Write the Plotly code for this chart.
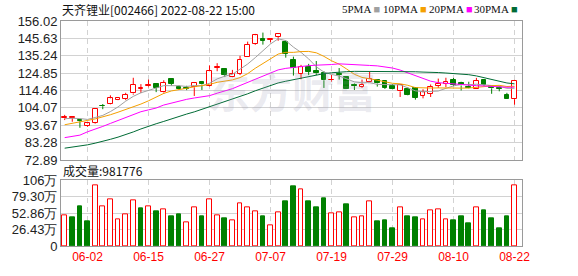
import plotly.graph_objects as go

# ---------------- data ----------------
dates = ["05-30", "05-31", "06-01", "06-02", "06-06", "06-07", "06-08", "06-09", "06-10", "06-13",
         "06-14", "06-15", "06-16", "06-17", "06-20", "06-21", "06-22", "06-23", "06-24", "06-27",
         "06-28", "06-29", "06-30", "07-01", "07-04", "07-05", "07-06", "07-07", "07-08", "07-11",
         "07-12", "07-13", "07-14", "07-15", "07-18", "07-19", "07-20", "07-21", "07-22", "07-25",
         "07-26", "07-27", "07-28", "07-29", "08-01", "08-02", "08-03", "08-04", "08-05", "08-08",
         "08-09", "08-10", "08-11", "08-12", "08-15", "08-16", "08-17", "08-18", "08-19", "08-22"]

opens = [97.8, 98.0, 96.8, 93.4, 94.9, 105.4, 106.4, 109.1, 109.3, 112.7,
         115.6, 116.9, 118.1, 113.3, 121.4, 116.4, 115.8, 116.4, 119.7, 117.3,
         128.0, 127.3, 122.5, 124.4, 134.7, 142.3, 145.2, 144.7, 146.4, 143.7,
         132.5, 124.6, 128.3, 126.4, 124.8, 120.6, 124.4, 122.5, 117.5, 116.5,
         119.4, 121.0, 120.2, 117.0, 114.0, 115.6, 116.0, 111.3, 112.5, 117.1,
         118.5, 121.0, 119.1, 116.5, 115.6, 121.0, 117.0, 115.9, 111.9, 109.3]
highs = [99.9, 98.5, 97.0, 95.3, 103.8, 106.4, 111.6, 110.6, 113.1, 122.1,
         118.3, 121.0, 118.6, 120.6, 121.5, 117.5, 117.3, 119.1, 119.9, 129.5,
         130.8, 127.6, 126.8, 135.2, 143.7, 148.3, 149.1, 145.8, 148.5, 144.5,
         134.7, 129.8, 130.4, 132.1, 126.0, 123.7, 127.9, 122.9, 118.7, 121.0,
         125.6, 121.2, 120.6, 118.3, 118.3, 116.4, 116.4, 115.2, 118.1, 121.6,
         122.1, 122.0, 119.7, 119.7, 122.0, 121.2, 117.2, 117.3, 113.1, 120.8]
lows = [96.8, 95.8, 92.2, 92.8, 94.5, 103.3, 106.2, 108.7, 108.7, 112.0,
        112.9, 116.4, 113.5, 112.5, 117.3, 114.8, 114.7, 111.2, 114.8, 116.9,
        126.0, 122.5, 122.4, 123.7, 134.5, 141.8, 141.9, 143.3, 144.2, 134.1,
        123.4, 121.2, 123.7, 123.7, 116.0, 119.8, 121.0, 115.4, 114.8, 116.0,
        119.2, 116.8, 115.4, 115.2, 110.6, 111.6, 109.0, 109.8, 110.6, 116.0,
        116.4, 117.1, 114.5, 115.8, 115.4, 117.1, 112.5, 114.0, 109.4, 106.0]
closes = [98.8, 98.4, 96.2, 94.8, 103.5, 105.1, 109.8, 110.1, 111.9, 117.9,
          116.0, 117.9, 116.0, 119.1, 118.3, 115.4, 115.6, 118.9, 118.1, 126.0,
          128.4, 123.7, 124.6, 132.9, 141.9, 147.5, 144.2, 145.0, 148.3, 136.4,
          128.2, 128.4, 125.6, 124.7, 120.6, 121.0, 123.9, 115.6, 117.1, 117.9,
          121.4, 118.7, 116.0, 115.6, 117.7, 111.9, 110.2, 113.3, 116.8, 118.6,
          119.8, 117.7, 117.5, 116.0, 120.2, 117.7, 115.8, 115.6, 109.6, 120.4]

# volume in 万 (10k shares)
volumes = [49.5, 46.9, 63.8, 40.0, 98.1, 63.3, 74.9, 42.7, 50.6, 72.8,
           60.6, 63.3, 55.9, 58.6, 48.0, 51.1, 38.5, 61.7, 48.0, 74.9,
           49.1, 44.8, 41.1, 68.0, 61.7, 55.4, 48.0, 33.2, 53.8, 71.7,
           95.4, 90.7, 71.7, 62.2, 76.4, 52.2, 53.8, 66.9, 46.4, 47.5,
           71.2, 40.0, 41.6, 29.0, 61.7, 48.0, 46.4, 43.2, 57.0, 59.0,
           43.2, 41.6, 48.0, 36.9, 61.7, 57.4, 45.3, 29.0, 48.0, 98.18]

ma5 = [97.6, 97.9, 97.7, 97.2, 98.34, 99.60, 101.88, 104.66, 108.08, 110.96,
       113.14, 114.76, 115.94, 117.38, 117.46, 117.34, 116.88, 117.46, 117.26, 118.80,
       121.40, 123.02, 124.16, 127.12, 130.30, 134.12, 138.22, 142.30, 145.38, 144.28,
       140.42, 137.26, 133.38, 128.66, 125.50, 124.06, 123.16, 121.16, 119.64, 119.10,
       119.18, 118.14, 118.22, 117.92, 117.88, 115.98, 114.28, 113.74, 113.98, 114.16,
       115.74, 117.24, 118.08, 117.92, 118.24, 117.82, 117.44, 117.06, 115.78, 115.82]
ma10 = [94.0, 95.0, 95.9, 96.6, 97.5, 98.6, 100.0, 101.5, 103.1, 104.65,
        106.37, 108.32, 110.30, 112.73, 114.21, 115.24, 115.82, 116.70, 117.32, 118.13,
        119.37, 119.95, 120.81, 122.19, 124.55, 127.76, 130.62, 133.23, 136.25, 137.29,
        137.27, 137.74, 137.84, 137.02, 134.89, 132.24, 130.21, 127.27, 124.15, 122.30,
        121.62, 120.65, 119.69, 118.78, 118.49, 117.58, 116.21, 115.98, 115.95, 116.02,
        115.86, 115.76, 115.91, 115.95, 116.20, 116.78, 117.34, 117.57, 116.85, 117.03]
ma20 = [86.3, 87.0, 87.8, 89.8, 91.2, 93.0, 94.8, 96.5, 98.3, 100.0,
        101.8, 102.9, 104.0, 105.8, 107.0, 108.2, 109.2, 110.0, 110.6, 111.39,
        112.87, 114.14, 115.56, 117.46, 119.38, 121.50, 123.22, 124.97, 126.79, 127.71,
        128.32, 128.85, 129.33, 129.61, 129.72, 130.00, 130.42, 130.25, 130.20, 129.80,
        129.45, 129.20, 128.77, 127.90, 126.69, 124.91, 123.21, 121.63, 120.05, 119.16,
        118.74, 118.21, 117.80, 117.37, 117.35, 117.18, 116.78, 116.78, 116.40, 116.53]
ma30 = [80.0, 80.6, 81.3, 82.0, 83.0, 84.0, 85.3, 86.6, 88.0, 89.7,
        91.5, 93.2, 94.6, 96.0, 97.6, 99.0, 100.4, 101.7, 103.2, 104.8,
        106.5, 108.0, 109.5, 111.0, 112.5, 114.3, 116.0, 117.6, 119.0, 120.02,
        121.00, 122.00, 122.98, 123.98, 124.55, 125.08, 125.55, 125.73, 125.91, 125.91,
        126.09, 126.11, 126.11, 126.00, 125.98, 125.86, 125.68, 125.49, 125.45, 125.20,
        124.92, 124.72, 124.48, 123.92, 123.19, 122.20, 121.25, 120.27, 118.98, 118.45]

price_ticks = [72.89, 83.28, 93.67, 104.07, 114.46, 124.85, 135.24, 145.63, 156.02]
vol_tickvals = [0, 26.43, 52.86, 79.29, 105.72]
vol_ticktext = ["0", "26.43万", "52.86万", "79.30万", "106万"]

title_text = "天齐锂业[002466] 2022-08-22 15:00"
volume_label = "成交量:981776"
ma_names = ["5PMA", "10PMA", "20PMA", "30PMA"]

# ---------------- styles ----------------
RED = "#ff0000"
GREEN = "#008000"
MA_COLORS = ["#a0a0a0", "#f5a000", "#ff00ff", "#006b35"]
GRID = "#d2d2d2"
FRAME = "#9a9a9a"

n = len(dates)
idx = list(range(n))
up = [c >= o for o, c in zip(opens, closes)]
vol_up = [True] + [closes[i] >= closes[i - 1] for i in range(1, n)]

fig = go.Figure()

# candle wicks
for flag, col in ((True, RED), (False, GREEN)):
    wx, wy = [], []
    for i in idx:
        if up[i] != flag:
            continue
        top = max(opens[i], closes[i])
        bot = min(opens[i], closes[i])
        wx += [i, i, None, i, i, None]
        wy += [highs[i], top, None, bot, lows[i], None]
    fig.add_trace(go.Scatter(x=wx, y=wy, mode="lines", line=dict(color=col, width=1),
                             hoverinfo="skip", showlegend=False, xaxis="x", yaxis="y"))

# candle bodies
for flag, col, fill in ((True, RED, "#ffffff"), (False, GREEN, GREEN)):
    xs = [i for i in idx if up[i] == flag]
    fig.add_trace(go.Bar(
        x=xs,
        y=[max(abs(closes[i] - opens[i]), 0.15) for i in xs],
        base=[min(opens[i], closes[i]) for i in xs],
        width=0.62,
        marker=dict(color=fill, line=dict(color=col, width=1)),
        hoverinfo="skip", showlegend=False, xaxis="x", yaxis="y"))

# moving averages
for name, vals, col in zip(ma_names, [ma5, ma10, ma20, ma30], MA_COLORS):
    fig.add_trace(go.Scatter(x=idx, y=vals, mode="lines", name=name,
                             line=dict(color=col, width=1), hoverinfo="skip",
                             showlegend=False, xaxis="x", yaxis="y"))

# volume bars
for flag, col, fill in ((True, RED, "#ffffff"), (False, GREEN, GREEN)):
    xs = [i for i in idx if vol_up[i] == flag]
    fig.add_trace(go.Bar(
        x=xs, y=[volumes[i] for i in xs], width=0.62,
        marker=dict(color=fill, line=dict(color=col, width=1)),
        hoverinfo="skip", showlegend=False, xaxis="x2", yaxis="y2"))

tick_idx = sorted(range(n - 1, -1, -8))
tick_idx = [i for i in tick_idx if i >= 0]

W, H = 578, 276
ML, MR, MT, MB = 57, 56, 21, 21
PW, PH = W - ML - MR, H - MT - MB


def px(x):
    return (x - ML) / PW


def py(y):
    return (H - MB - y) / PH


xrange_ = [-0.48, n - 0.02]
common_x = dict(range=xrange_, tickvals=tick_idx, showgrid=True, gridcolor=GRID,
                griddash="5px,4px", gridwidth=1, zeroline=False, showline=True,
                mirror=True, linecolor=FRAME, linewidth=1, ticks="", fixedrange=True)

fig.update_layout(
    width=W, height=H,
    margin=dict(l=ML, r=MR, t=MT, b=MB),
    paper_bgcolor="white", plot_bgcolor="white",
    barmode="overlay", bargap=0,
    font=dict(family="Liberation Sans, Arial, sans-serif", size=13, color="#222222"),
    xaxis=dict(domain=[0, 1], anchor="y", showticklabels=False, **common_x),
    yaxis=dict(domain=[py(165), 1.0], range=[price_ticks[0], price_ticks[-1]],
               tickvals=price_ticks, ticktext=[f"{v:.2f}" for v in price_ticks],
               showgrid=True, gridcolor=GRID, gridwidth=1, zeroline=False,
               showline=True, mirror=True, linecolor=FRAME, linewidth=1, ticks="",
               tickfont=dict(size=13, color="#222222")),
    xaxis2=dict(domain=[0, 1], anchor="y2", ticktext=[dates[i] for i in tick_idx],
                tickfont=dict(size=12, color=RED), **common_x),
    yaxis2=dict(domain=[py(254), py(186)], range=[0, vol_tickvals[-1]],
                tickvals=vol_tickvals, ticktext=vol_ticktext,
                showgrid=True, gridcolor=GRID, gridwidth=1, zeroline=False,
                showline=True, mirror=True, linecolor=FRAME, linewidth=1, ticks="",
                tickfont=dict(size=13, color="#222222")),
)

annotations = [
    dict(text="<b>东方财富</b>", x=px(290), y=py(92), xref="paper", yref="paper",
         xanchor="center", yanchor="middle",
         showarrow=False, font=dict(family="Noto Sans CJK SC", size=42,
                                    color="rgba(150,150,175,0.2)")),
    dict(text=title_text, x=px(56), y=py(9), xref="paper", yref="paper",
         xanchor="left", yanchor="middle", showarrow=False,
         font=dict(family="Noto Sans CJK SC", size=12, color="#111111")),
    dict(text=volume_label, x=px(57), y=py(176), xref="paper", yref="paper",
         xanchor="left", yanchor="middle", showarrow=False,
         font=dict(family="Noto Sans CJK SC", size=12, color="#111111")),
]
legend_x = [338, 380, 426, 472]
for name, col, lx in zip(ma_names, MA_COLORS, legend_x):
    annotations.append(dict(
        text=f'{name}<span style="color:{col}"> ■</span>',
        x=px(lx), y=py(9), xref="paper", yref="paper", xanchor="left",
        yanchor="middle", showarrow=False,
        font=dict(family="Liberation Serif, serif", size=11, color="#111111")))
fig.update_layout(annotations=annotations)

fig.write_html("out.html")
